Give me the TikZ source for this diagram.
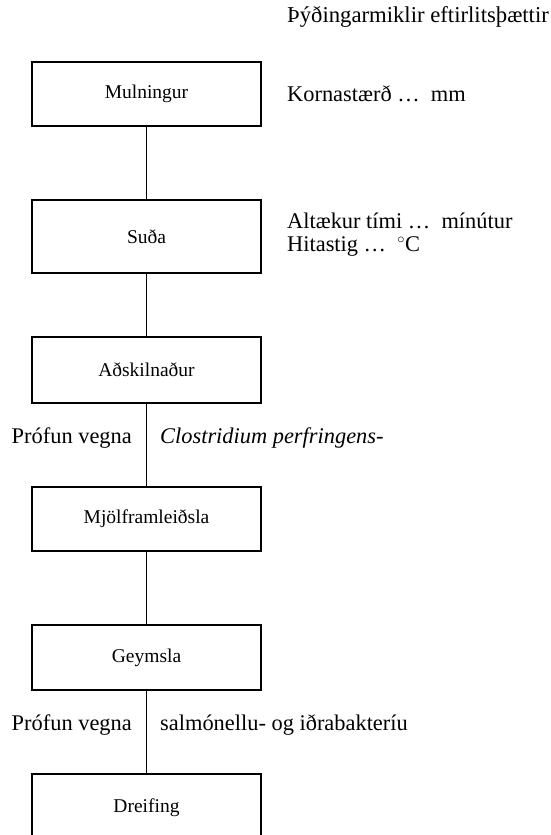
\documentclass[tikz,border=0pt]{standalone}
\usepackage{fontspec}
\setmainfont{Liberation Serif}
\begin{document}
\begin{tikzpicture}[x=1pt,y=-1pt,
  stepbox/.style={draw,line width=1.9pt,minimum width=229pt,inner sep=0pt,
    font=\fontsize{19.5}{22}\selectfont},
  note/.style={inner sep=0pt,font=\fontsize{22.4}{20.5}\selectfont,align=left},
  link/.style={line width=1.9pt}]
\clip (0,0) rectangle (550,835);
\fill[white] (0,0) rectangle (550,835);

% header over the control-point column
\node[note,anchor=base west,font=\fontsize{22.7}{24}\selectfont] (head) at (287,23) {Þýðingarmiklir eftirlitsþættir};

% process steps
\node[stepbox,minimum height=64pt] (s1) at (146.5,94) {Mulningur};
\node[stepbox,minimum height=73pt] (s2) at (146.5,236.5) {Suða};
\node[stepbox,minimum height=66pt] (s3) at (146.5,370) {Aðskilnaður};
\node[stepbox,minimum height=64pt] (s4) at (146.5,519) {Mjölframleiðsla};
\node[stepbox,minimum height=65pt] (s5) at (146.5,657.5) {Geymsla};
\node[stepbox,minimum height=68pt] (s6) at (146.5,808) {Dreifing};

% connectors
\draw[link] (s1.south) -- (s2.north);
\draw[link] (s2.south) -- (s3.north);
\draw[link] (s3.south) -- (s4.north);
\draw[link] (s4.south) -- (s5.north);
\draw[link] (s5.south) -- (s6.north);

% control points beside the steps
\node[note,anchor=base west] (c1) at (287,101) {Kornastærð …\ \ mm};
\node[note,anchor=base west] (c2) at (287,228) {Altækur tími …\ \ mínútur};
\node[note,anchor=base west] (c3) at (287,251) {Hitastig …\ \ $^{\circ}$C};

% tests between steps
\node[note,anchor=east] (t1l) at (132,438) {Prófun vegna};
\node[note,anchor=west] (t1r) at (160,438) {\itshape Clostridium perfringens-};
\node[note,anchor=east] (t2l) at (132,725) {Prófun vegna};
\node[note,anchor=west] (t2r) at (160,725) {salmónellu- og iðrabakteríu};
\end{tikzpicture}
\end{document}
